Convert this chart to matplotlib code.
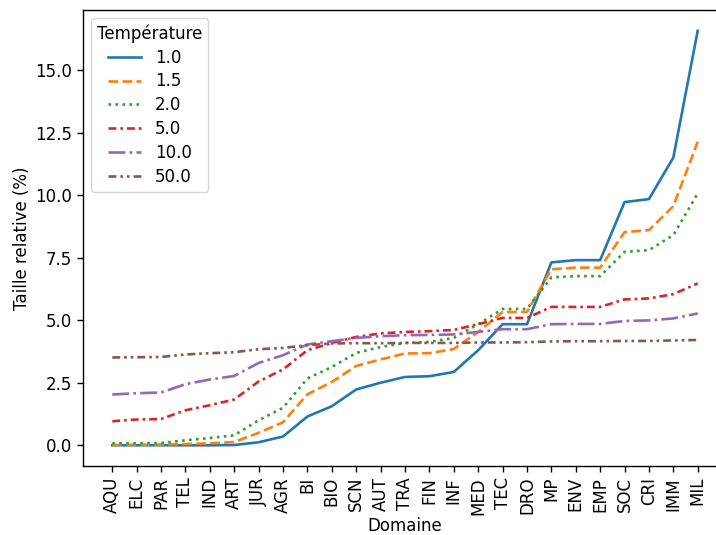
import matplotlib.pyplot as plt

domains = ['AQU', 'ELC', 'PAR', 'TEL', 'IND', 'ART', 'JUR', 'AGR', 'BI', 'BIO',
           'SCN', 'AUT', 'TRA', 'FIN', 'INF', 'MED', 'TEC', 'DRO', 'MP', 'ENV',
           'EMP', 'SOC', 'CRI', 'IMM', 'MIL']

temperatures = ['1.0', '1.5', '2.0', '5.0', '10.0', '50.0']

t_1_0 = [0.0, 0.0, 0.0, 0.0, 0.0, 0.01, 0.12, 0.35, 1.15, 1.56, 2.23, 2.5, 2.73,
         2.76, 2.93, 3.8, 4.84, 4.84, 7.31, 7.4, 7.4, 9.72, 9.84, 11.5, 16.57]
t_1_5 = [0.01, 0.02, 0.03, 0.05, 0.08, 0.13, 0.5, 0.92, 2.04, 2.53, 3.17, 3.43, 3.67,
         3.68, 3.85, 4.53, 5.33, 5.33, 7.04, 7.1, 7.1, 8.52, 8.6, 9.56, 12.13]
t_2_0 = [0.08, 0.08, 0.09, 0.2, 0.29, 0.4, 1.0, 1.5, 2.67, 3.13, 3.69, 3.93, 4.09,
         4.13, 4.29, 4.84, 5.45, 5.45, 6.71, 6.76, 6.76, 7.73, 7.8, 8.4, 10.07]
t_5_0 = [0.96, 1.03, 1.05, 1.4, 1.6, 1.83, 2.55, 3.03, 3.8, 4.09, 4.33, 4.47, 4.53,
         4.56, 4.61, 4.84, 5.09, 5.09, 5.53, 5.53, 5.53, 5.83, 5.87, 6.04, 6.47]
t_10_0 = [2.03, 2.08, 2.11, 2.44, 2.63, 2.77, 3.29, 3.6, 4.03, 4.16, 4.29, 4.36, 4.4,
          4.41, 4.43, 4.53, 4.64, 4.64, 4.84, 4.85, 4.85, 4.97, 4.99, 5.07, 5.27]
t_50_0 = [3.51, 3.52, 3.53, 3.63, 3.68, 3.72, 3.84, 3.89, 4.0, 4.07, 4.08, 4.08, 4.09,
          4.09, 4.09, 4.11, 4.11, 4.12, 4.15, 4.16, 4.16, 4.17, 4.17, 4.19, 4.21]

series = [t_1_0, t_1_5, t_2_0, t_5_0, t_10_0, t_50_0]
colours = ['tab:blue', 'tab:orange', 'tab:green', 'tab:red', 'tab:purple', 'tab:brown']
styles = ['-', '--', ':', (0, (3, 1.5, 1, 1.5)), '-.', (0, (3, 1.5, 1, 1.5, 1, 1.5))]

plt.rcParams['font.size'] = 12
plt.rcParams['xtick.major.size'] = 4.4
plt.rcParams['ytick.major.size'] = 4.4
plt.rcParams['xtick.major.width'] = 1.0
plt.rcParams['ytick.major.width'] = 1.0
plt.rcParams['axes.linewidth'] = 1.0

fig = plt.figure(figsize=(7.16, 5.35), dpi=100)
ax = fig.add_axes([83 / 716, 69 / 535, 644 / 716, 456 / 535])

x = list(range(len(domains)))
for temp, vals, colour, ls in zip(temperatures, series, colours, styles):
    ax.plot(x, vals, label=temp, color=colour, linestyle=ls, linewidth=1.9)

ax.set_xticks(x)
ax.set_xticklabels(domains, rotation=90)
ax.set_xlabel('Domaine', labelpad=2)
ax.set_ylabel('Taille relative (%)', labelpad=3)
ax.legend(title='Température', loc='upper left', labelspacing=0.35, borderpad=0.35)

fig.savefig('out.png', dpi=100)
